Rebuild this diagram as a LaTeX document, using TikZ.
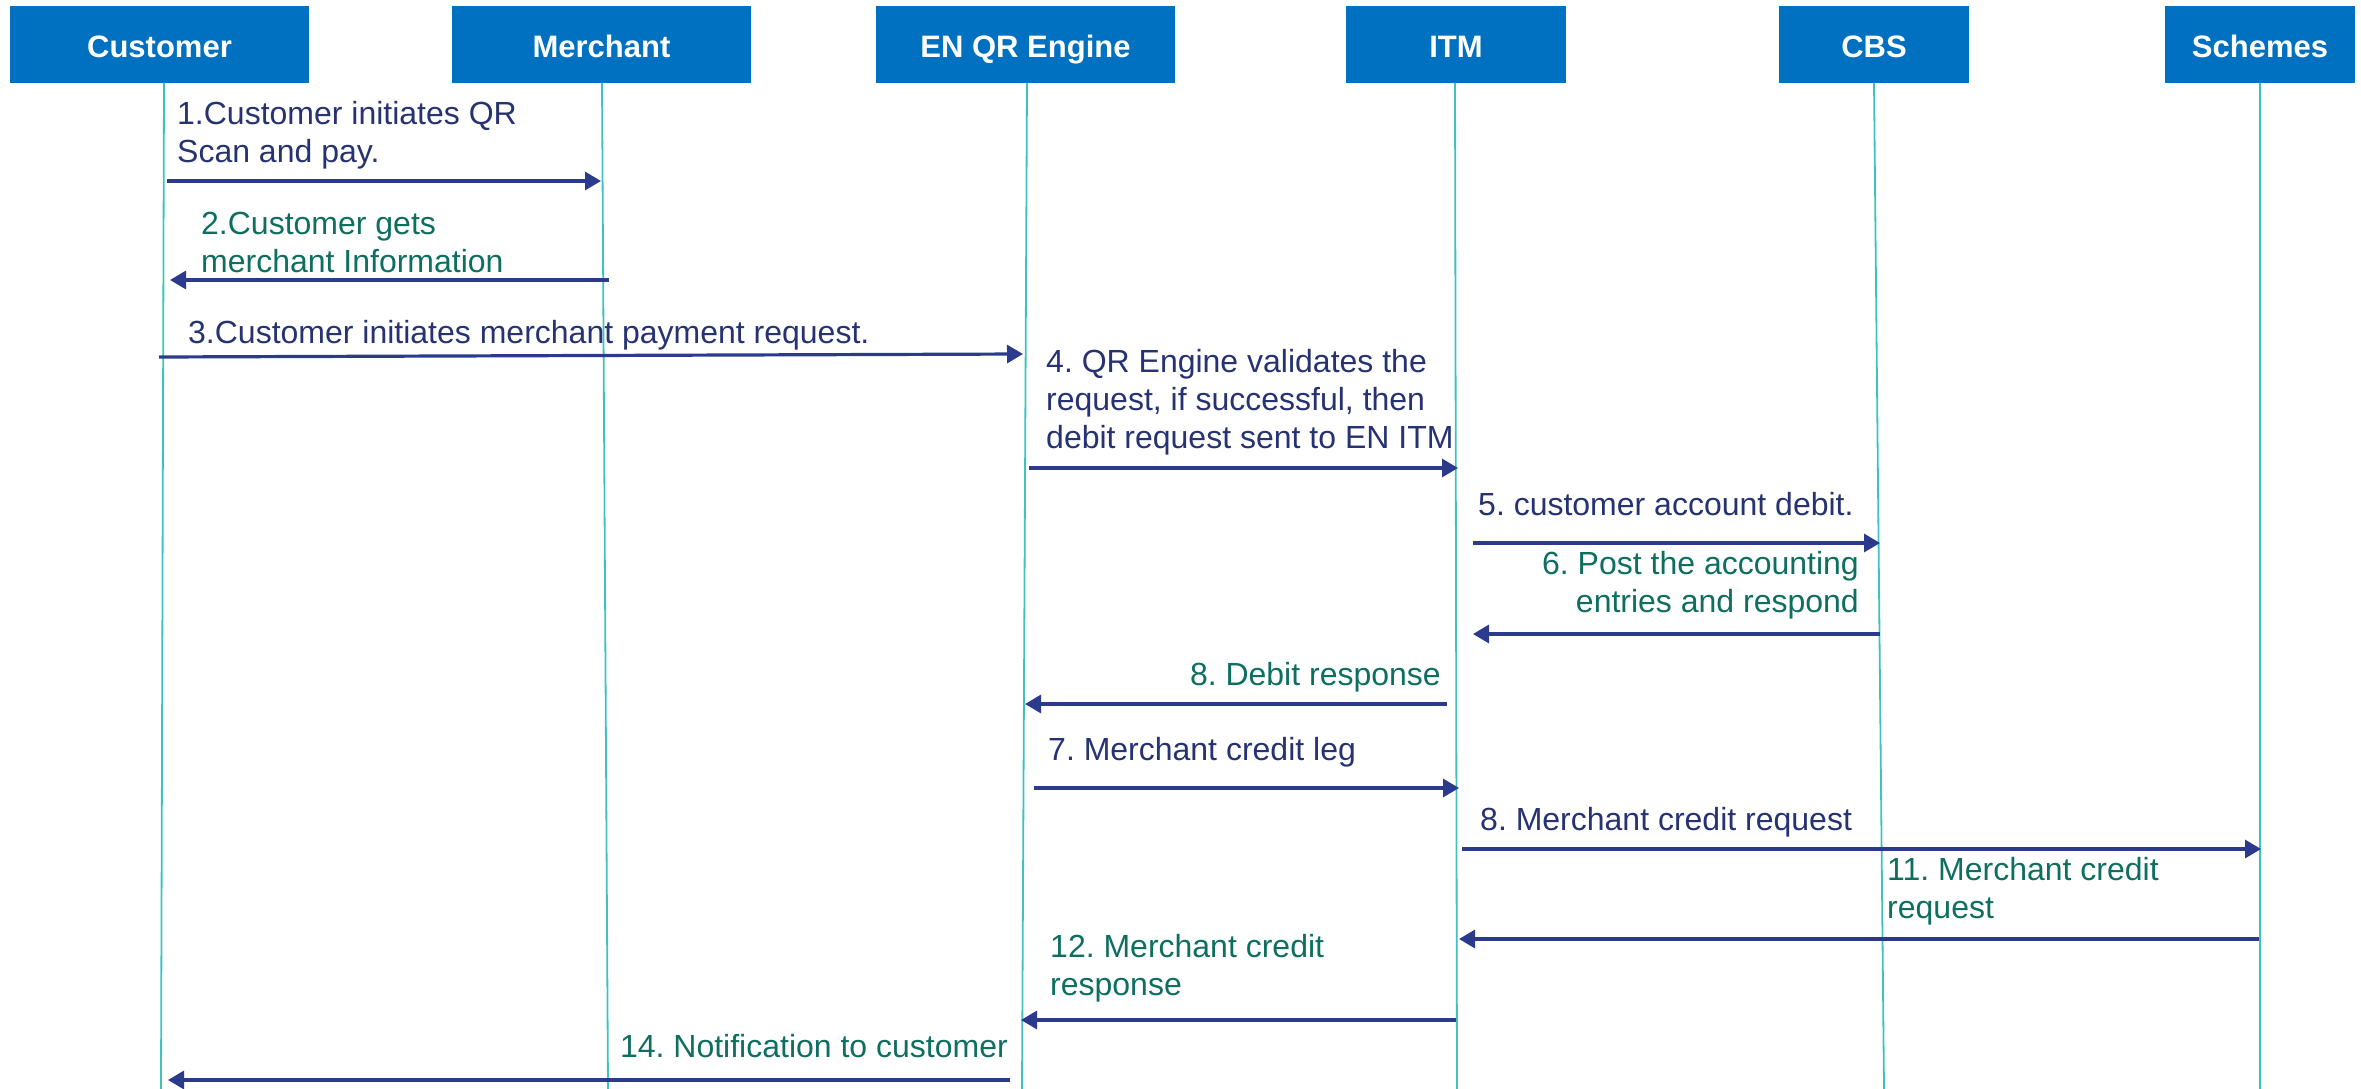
\documentclass[tikz,border=0pt]{standalone}
\usepackage{fontspec}
\setmainfont{Liberation Sans}
\usetikzlibrary{arrows.meta}
\definecolor{hdrblue}{HTML}{0070C0}
\definecolor{life}{HTML}{3CC3C0}
\definecolor{arrnavy}{HTML}{2B3A8C}
\definecolor{txtnavy}{HTML}{263272}
\definecolor{txtgreen}{HTML}{0E6E60}
\frenchspacing
\begin{document}
\begin{tikzpicture}[x=1pt,y=-1pt,
  hdr/.style={fill=hdrblue, text=white, minimum height=77pt, inner sep=0pt,
    text height=34pt, text depth=7pt,
    font=\fontsize{31}{37}\selectfont\bfseries},
  lifeline/.style={draw=life, line width=1.8pt},
  msg/.style={draw=arrnavy, line width=3.2pt, -{Triangle[length=16pt,width=18pt]}},
  lbl/.style={inner sep=0pt, font=\fontsize{32}{38}\selectfont},
  lblreq/.style={lbl, text=txtnavy, align=left, anchor=base west},
  lblresp/.style={lbl, text=txtgreen, align=left, anchor=base west},
  lblrespr/.style={lbl, text=txtgreen, align=right, anchor=base east}
]
\useasboundingbox (0,0) rectangle (2361,1089);

% headers
\node[hdr, minimum width=299pt] (cust)  at (159.5,44.5) {Customer};
\node[hdr, minimum width=299pt] (merch) at (601.5,44.5) {Merchant};
\node[hdr, minimum width=299pt] (qr)    at (1025.5,44.5) {EN QR Engine};
\node[hdr, minimum width=220pt] (itm)   at (1456,44.5) {ITM};
\node[hdr, minimum width=190pt] (cbs)   at (1874,44.5) {CBS};
\node[hdr, minimum width=190pt] (sch)   at (2260,44.5) {Schemes};

% lifelines
\coordinate (custT) at (164,83);   \coordinate (custB) at (161,1089);
\coordinate (merchT) at (602,83);  \coordinate (merchB) at (608,1089);
\coordinate (qrT) at (1027,83);    \coordinate (qrB) at (1022,1089);
\coordinate (itmT) at (1455,83);   \coordinate (itmB) at (1457,1089);
\coordinate (cbsT) at (1874,83);   \coordinate (cbsB) at (1884,1089);
\coordinate (schT) at (2260,83);   \coordinate (schB) at (2260,1089);
\draw[lifeline] (custT) -- (custB);
\draw[lifeline] (merchT) -- (merchB);
\draw[lifeline] (qrT) -- (qrB);
\draw[lifeline] (itmT) -- (itmB);
\draw[lifeline] (cbsT) -- (cbsB);
\draw[lifeline] (schT) -- (schB);

% message end points
\coordinate (m1a) at (167,181);   \coordinate (m1b) at (601,181);
\coordinate (m2a) at (609,280);   \coordinate (m2b) at (170,280);
\coordinate (m3a) at (159,357);   \coordinate (m3b) at (1023,354);
\coordinate (m4a) at (1029,468);  \coordinate (m4b) at (1458,468);
\coordinate (m5a) at (1473,543);  \coordinate (m5b) at (1880,543);
\coordinate (m6a) at (1880,634);  \coordinate (m6b) at (1473,634);
\coordinate (m8a) at (1447,704);  \coordinate (m8b) at (1025,704);
\coordinate (m7a) at (1034,788);  \coordinate (m7b) at (1459,788);
\coordinate (m9a) at (1462,849);  \coordinate (m9b) at (2261,849);
\coordinate (m11a) at (2259,939); \coordinate (m11b) at (1459,939);
\coordinate (m12a) at (1456,1020);\coordinate (m12b) at (1021,1020);
\coordinate (m14a) at (1010,1080);\coordinate (m14b) at (168,1080);

\draw[msg] (m1a) -- (m1b);
\draw[msg] (m2a) -- (m2b);
\draw[msg] (m3a) -- (m3b);
\draw[msg] (m4a) -- (m4b);
\draw[msg] (m5a) -- (m5b);
\draw[msg] (m6a) -- (m6b);
\draw[msg] (m8a) -- (m8b);
\draw[msg] (m7a) -- (m7b);
\draw[msg] (m9a) -- (m9b);
\draw[msg] (m11a) -- (m11b);
\draw[msg] (m12a) -- (m12b);
\draw[msg] (m14a) -- (m14b);

% labels (base anchor = baseline of the last line)
\node[lblreq]  (l1)  at (177,162)  {1.Customer initiates QR\\Scan and pay.};
\node[lblresp] (l2)  at (201,272)  {2.Customer gets\\merchant Information};
\node[lblreq]  (l3)  at (188,343)  {3.Customer initiates merchant payment request.};
\node[lblreq]  (l4)  at (1046,448) {4. QR Engine validates the\\request, if successful, then\\debit request sent to EN ITM};
\node[lblreq]  (l5)  at (1478,515) {5. customer account debit.};
\node[lblrespr] (l6) at (1859,612) {6. Post the accounting\\entries and respond};
\node[lblrespr] (l8) at (1441,685) {8. Debit response};
\node[lblreq]  (l7)  at (1048,760) {7. Merchant credit leg};
\node[lblreq]  (l9)  at (1480,830) {8. Merchant credit request};
\node[lblresp] (l11) at (1887,918) {11. Merchant credit\\request};
\node[lblresp] (l12) at (1050,995) {12. Merchant credit\\response};
\node[lblrespr] (l14) at (1008,1057) {14. Notification to customer};
\end{tikzpicture}
\end{document}
